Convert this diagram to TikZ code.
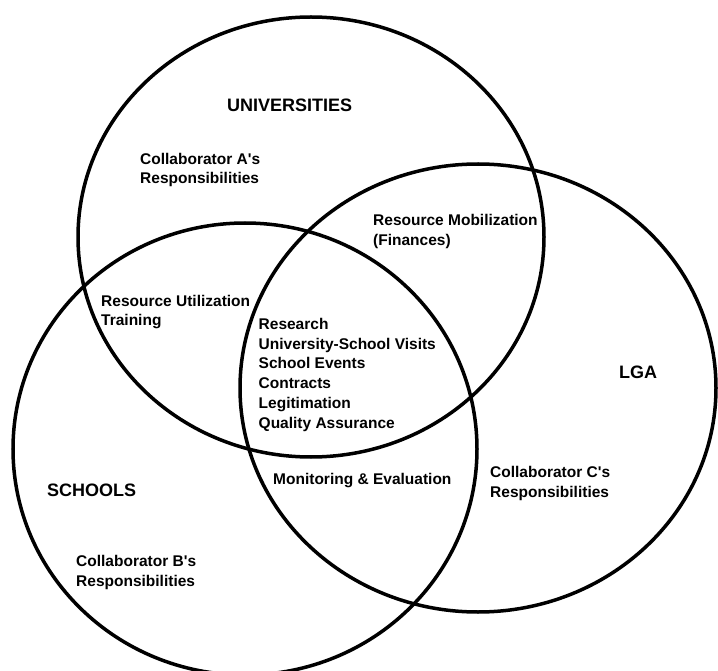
\documentclass[tikz,border=0pt]{standalone}
\usepackage{fontspec}
\setmainfont{Liberation Sans}[Ligatures=TeXOff]
\begin{document}
\begin{tikzpicture}[x=1pt,y=-1pt,
  ring/.style={draw=black, line width=3.5pt},
  lbl/.style={anchor=base west, inner sep=0pt, font=\bfseries\fontsize{15.5}{19}\selectfont},
  head/.style={anchor=base west, inner sep=0pt, font=\bfseries\fontsize{18}{22}\selectfont}]
\useasboundingbox (0,0) rectangle (718,671);
\clip (0,0) rectangle (718,671);
\fill[white] (0,0) rectangle (718,671);
% circles
\draw[ring] (311,237) ellipse [x radius=233, y radius=220];
\draw[ring] (245,449) ellipse [x radius=232, y radius=226];
\draw[ring] (478,388) ellipse [x radius=238, y radius=224];
% labels
\node[head] (uni) at (227,111.5) {UNIVERSITIES};
\node[lbl] (ca1) at (140,164.5) {Collaborator A's};
\node[lbl] (ca2) at (140,184) {Responsibilities};
\node[lbl] (rm1) at (373,225.5) {Resource Mobilization};
\node[lbl] (rm2) at (373,246) {(Finances)};
\node[lbl] (ru1) at (101,306.5) {Resource Utilization};
\node[lbl] (ru2) at (101,326) {Training};
\node[lbl] (c1) at (258.5,329.5) {Research};
\node[lbl] (c2) at (258.5,349.2) {University-School Visits};
\node[lbl] (c3) at (258.5,368.9) {School Events};
\node[lbl] (c4) at (258.5,388.6) {Contracts};
\node[lbl] (c5) at (258.5,408.3) {Legitimation};
\node[lbl] (c6) at (258.5,428) {Quality Assurance};
\node[lbl] (me) at (273,484.5) {Monitoring \& Evaluation};
\node[head] (lga) at (619,378) {LGA};
\node[lbl] (cc1) at (490,477.5) {Collaborator C's};
\node[lbl] (cc2) at (490,497.5) {Responsibilities};
\node[head] (sch) at (47,496) {SCHOOLS};
\node[lbl] (cb1) at (76,566.5) {Collaborator B's};
\node[lbl] (cb2) at (76,586) {Responsibilities};
\end{tikzpicture}
\end{document}
